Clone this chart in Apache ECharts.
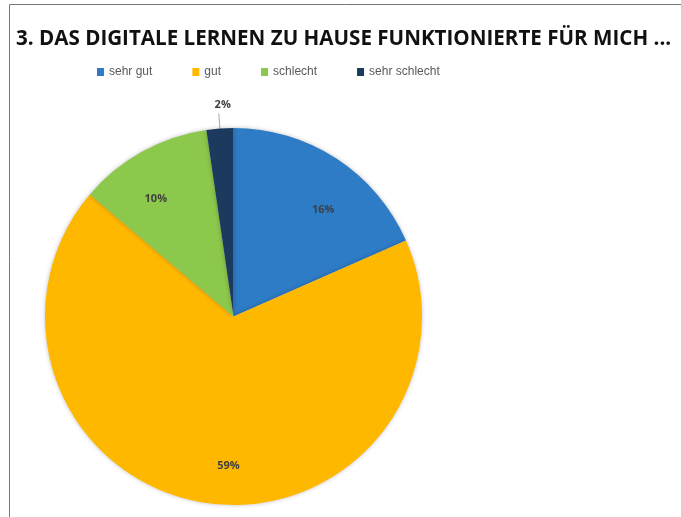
<!DOCTYPE html>
<html>
<head>
    <meta charset="utf-8">
    <title>Digitales Lernen</title>
    <script src="https://cdn.jsdelivr.net/npm/echarts@6/dist/echarts.min.js"></script>
</head>
<body style="margin:0;background:#fff;">
    <div id="main" style="width:681px;height:517px;"></div>
    <script type="text/javascript">
        // Werte aus der Umfrage (Prozent der Befragten)
        var categories = ['sehr gut', 'gut', 'schlecht', 'sehr schlecht'];
        var values = [16, 59, 10, 2];
        var colors = ['#2E7BC6', '#FFB800', '#8CC84B', '#1C3A5E'];
        // Feinjustierung der Labelpositionen (wie im Original leicht verschoben)
        var labelShift = [[10, 16], [16, 5], [-7, 10], [17, -9]];

        var myChart = echarts.init(document.getElementById('main'));

        // Hauptkreis: nur das kleine Segment bekommt ein Label aussen
        var outerData = categories.map(function (name, i) {
            return {
                name: name, value: values[i],
                itemStyle: { color: colors[i] },
                label: { show: i === 3, offset: labelShift[i] },
                labelLine: { show: i === 3 }
            };
        });

        // unsichtbare Hilfsreihe: legt die inneren Labels weiter nach aussen
        var innerLabelData = categories.map(function (name, i) {
            return { name: name, value: values[i], label: { show: i !== 3, offset: labelShift[i] } };
        });

        var labelFont = {
            formatter: '{c}%',
            fontFamily: 'Open Sans',
            fontWeight: 'bold',
            fontSize: 11,
            color: '#404040'
        };

        var option = {
            animation: false,
            color: colors,
            title: {
                text: '3. DAS DIGITALE LERNEN ZU HAUSE FUNKTIONIERTE FÜR MICH ...',
                left: 11,
                top: 24,
                textStyle: {
                    fontFamily: 'Open Sans',
                    fontWeight: 'bold',
                    fontSize: 20.6,
                    color: '#111'
                }
            },
            legend: {
                data: categories,
                left: 92,
                top: 61,
                icon: 'rect',
                itemWidth: 7,
                itemHeight: 8,
                itemGap: 40,
                textStyle: { fontFamily: 'Liberation Sans', fontSize: 12, color: '#595959' }
            },
            graphic: [{
                type: 'rect',
                silent: true,
                shape: { x: 9.5, y: 4.5, width: 700, height: 600 },
                style: { fill: 'none', stroke: '#777', lineWidth: 1 }
            }],
            series: [{
                type: 'pie',
                center: [233.5, 316.5],
                radius: 188.5,
                startAngle: 90,
                clockwise: true,
                itemStyle: { shadowBlur: 4, shadowColor: 'rgba(0,0,0,0.25)' },
                label: Object.assign({ position: 'outside' }, labelFont),
                labelLine: { length: 15, length2: 0, lineStyle: { color: '#a6a6a6', width: 1 } },
                emphasis: { disabled: true },
                data: outerData
            }, {
                type: 'pie',
                silent: true,
                center: [233.5, 316.5],
                radius: 286,
                startAngle: 90,
                clockwise: true,
                itemStyle: { color: 'rgba(0,0,0,0)' },
                label: Object.assign({ position: 'inside' }, labelFont),
                labelLine: { show: false },
                emphasis: { disabled: true },
                data: innerLabelData
            }]
        };

        myChart.setOption(option);
    </script>
</body>
</html>
